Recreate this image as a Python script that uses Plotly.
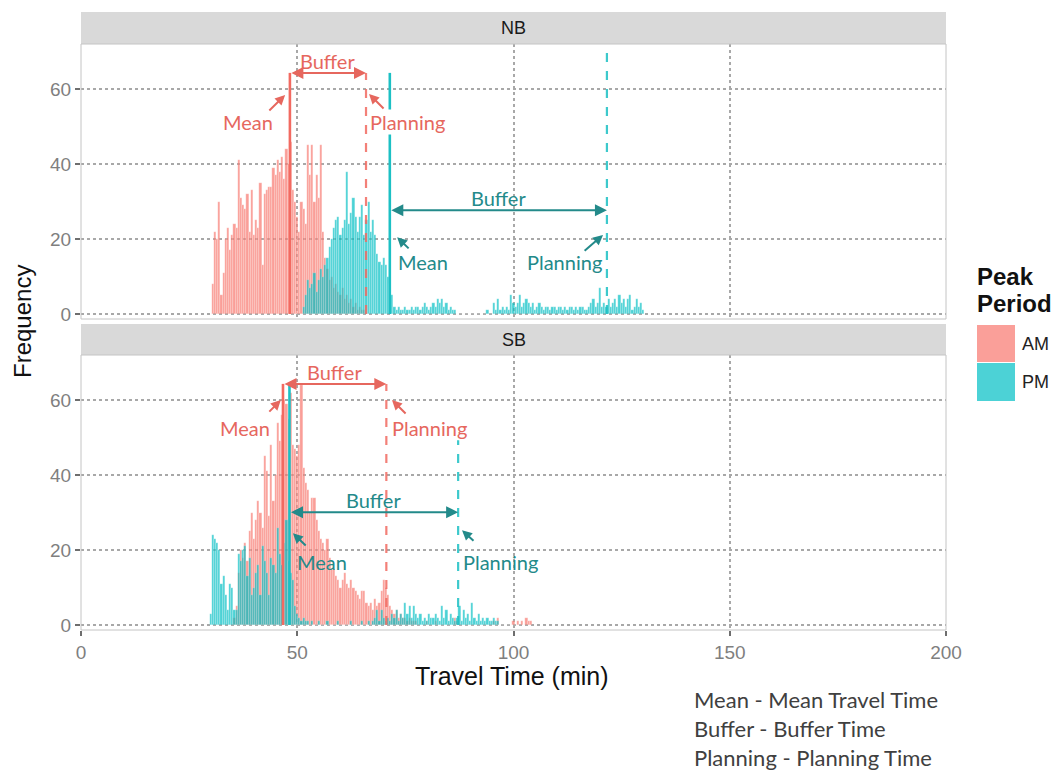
import plotly.graph_objects as go

# ---------------- data (bin width 0.5 min) ----------------
BIN = 0.5
nb_am_start = 30.5
nb_am_counts = [8, 22, 20, 30, 5, 11, 20, 23, 17, 21, 24, 23, 41, 31, 29, 28, 32, 22, 33, 21,
                25, 23, 35, 13, 32, 33, 34, 34, 39, 37, 41, 38, 42, 36, 44, 40, 46, 33, 30, 26,
                22, 30, 28, 24, 45, 37, 45, 30, 37, 31, 45, 22, 15, 12, 9, 10, 7, 8, 6, 5,
                7, 4, 5, 3, 4, 2, 3, 1, 2, 1, 1]
nb_pm_start = 51.5
nb_pm_counts = [2, 5, 9, 7, 8, 11, 6, 9, 12, 10, 13, 15, 18, 20, 23, 25, 26, 21, 23, 25,
                38, 24, 27, 31, 26, 22, 26, 29, 21, 25, 30, 22, 25, 21, 16, 14, 13, 15, 13, 10,
                8,
                5, 2, 1, 2, 1, 1, 2, 1, 1, 2, 1, 2, 2, 1, 2, 3, 2, 1, 2, 3, 2, 4, 3, 4, 2, 3, 1, 2, 1, 1,
                0, 0, 0, 0, 0, 0, 0, 0, 0, 0, 0, 0, 0, 0,
                1, 0, 0, 3, 1, 4, 1, 2, 1, 2, 1, 5, 3, 2, 3, 5, 2, 3, 4, 3, 2, 3, 1, 2, 3,
                2, 1, 2, 2, 1, 2, 2, 1, 2, 2, 1, 2, 1, 2, 2, 1, 2, 1, 2, 2, 1, 1, 2, 3, 4,
                2, 3, 7, 2, 3, 2, 4, 2, 3, 4, 2, 5, 3, 4, 2, 4, 5, 1, 2, 4, 2, 3, 1]
sb_am_start = 35.5
sb_am_counts = [2, 5, 14, 20, 18, 22, 17, 25, 30, 23, 28, 33, 30, 26, 45, 41, 29, 48, 33, 40,
                54, 49, 56, 60, 59, 55, 62, 48, 47, 45, 48, 64, 42, 38, 36, 30, 34, 34, 28, 25,
                23, 22, 20, 23, 18, 15, 15, 13, 12, 10, 12, 14, 11, 10, 12, 10, 9, 8, 7, 9,
                9, 6, 5, 6, 4, 7, 5, 6, 9, 12, 10, 8, 5, 4, 3, 4, 2, 3, 2, 2, 1, 2, 1, 1, 1,
                0, 0, 0, 0, 1, 0, 0, 0, 1, 0, 0, 0, 0, 0, 0, 0, 0, 2, 1, 0, 0, 0, 0, 0, 0,
                0, 0, 0, 0, 0, 0, 0, 0, 0, 0, 1, 0, 2, 0, 0, 0, 0, 0, 0, 1, 0, 1, 0, 1, 0,
                2, 1, 1]
sb_pm_start = 30.0
sb_pm_counts = [3, 24, 23, 22, 20, 11, 13, 8, 4, 11, 10, 4, 4, 19, 17, 20, 21, 13, 18, 8,
                10, 14, 16, 8, 21, 17, 14, 8, 18, 16, 14, 26, 19, 16, 22, 28, 17, 14, 12, 5,
                3, 2, 1, 2, 1, 1,
                0, 1, 0, 0, 1, 0, 0, 0, 1, 0, 0, 0, 0, 1, 0, 0, 0, 0, 0, 1, 0, 0, 0, 0, 1, 0, 0, 1, 0, 1,
                2, 4, 1, 4, 2, 1, 2, 1, 3, 2, 4, 1, 3, 2, 6, 3, 5, 2, 5, 3, 2, 3, 1, 2, 1,
                3, 2, 2, 3, 2, 1, 5, 2, 4, 1, 3, 2, 1, 2, 5, 1, 4, 2, 3, 1, 6, 2, 1, 3, 1,
                2, 1, 2, 1, 1, 2, 1, 1]

# mean and planning travel times (min)
nb_mean = {"AM": 48.3, "PM": 71.4}
nb_plan = {"AM": 65.9, "PM": 121.6}
sb_mean = {"AM": 46.7, "PM": 48.2}
sb_plan = {"AM": 70.6, "PM": 87.2}

x_ticks = [0, 50, 100, 150, 200]
y_ticks = [0, 20, 40, 60]
periods = ["AM", "PM"]
directions = ["NB", "SB"]
footer_lines = ["Mean - Mean Travel Time", "Buffer - Buffer Time", "Planning - Planning Time"]

# ---------------- styling ----------------
W, H = 1061, 770
FILL = {"AM": "#F8766D", "PM": "#00BFC4"}
LINE_C = {"AM": "#F26A61", "PM": "#1CC0C4"}
ANN_C = {"AM": "#E6675E", "PM": "#238A8A"}
GRID = "#A8A8A8"
TICKC = "#7F7F7F"

XL, XR = 81, 946
panels = {"NB": (44, 319), "SB": (355, 630)}
strips = {"NB": (12, 44), "SB": (324, 355)}


def py(p):
    return 1 - p / H


fig = go.Figure()

series = {
    ("NB", "AM"): (nb_am_start, nb_am_counts),
    ("NB", "PM"): (nb_pm_start, nb_pm_counts),
    ("SB", "AM"): (sb_am_start, sb_am_counts),
    ("SB", "PM"): (sb_pm_start, sb_pm_counts),
}
axmap = {"NB": ("x", "y"), "SB": ("x2", "y2")}

for d in directions:
    for p in periods:
        start, counts = series[(d, p)]
        xs = [start + i * BIN for i in range(len(counts))]
        xa, ya = axmap[d]
        fig.add_trace(go.Bar(x=xs, y=counts, width=BIN, marker_color=FILL[p],
                             marker_line=dict(width=0.4, color="rgba(255,255,255,0.55)"),
                             opacity=0.7, showlegend=False,
                             xaxis=xa, yaxis=ya, name=p))

axis_common = dict(range=[0, 200], tickvals=x_ticks, showgrid=True, gridcolor=GRID,
                   griddash="dot", gridwidth=1.6, zeroline=False, showline=False,
                   domain=[XL / W, XR / W], automargin=False)
yaxis_common = dict(range=[-1.33, 72], tickvals=y_ticks, showgrid=True, gridcolor=GRID,
                    griddash="dot", gridwidth=1.6, zeroline=False, showline=False,
                    ticks="outside", ticklen=5, tickwidth=1.5, tickcolor="#6E6E6E",
                    automargin=False,
                    tickfont=dict(family="Liberation Sans", size=19, color=TICKC))

fig.update_layout(
    autosize=True, margin=dict(l=0, r=0, t=0, b=0, pad=0),
    paper_bgcolor="white", plot_bgcolor="white", barmode="overlay", bargap=0,
    showlegend=False,
    xaxis=dict(**axis_common, anchor="y", showticklabels=False, ticks=""),
    yaxis=dict(**yaxis_common, anchor="x", domain=[py(panels["NB"][1]), py(panels["NB"][0])]),
    xaxis2=dict(**axis_common, anchor="y2", ticks="outside", ticklen=5, tickwidth=1.5,
                tickcolor="#6E6E6E",
                tickfont=dict(family="Liberation Sans", size=19, color=TICKC)),
    yaxis2=dict(**yaxis_common, anchor="x2", domain=[py(panels["SB"][1]), py(panels["SB"][0])]),
)

shapes = []
annotations = []

# strips + panel borders
for d in directions:
    s0, s1 = strips[d]
    shapes.append(dict(type="rect", xref="paper", yref="paper", x0=XL / W, x1=XR / W,
                       y0=py(s1), y1=py(s0), fillcolor="#D9D9D9", line_width=0, layer="below"))
    annotations.append(dict(xref="paper", yref="paper", x=(XL + XR) / 2 / W, y=py((s0 + s1) / 2),
                            text=d, showarrow=False, xanchor="center", yanchor="middle",
                            font=dict(family="Liberation Sans", size=18, color="#1A1A1A")))
    p0, p1 = panels[d]
    shapes.append(dict(type="rect", xref="paper", yref="paper", x0=XL / W, x1=XR / W,
                       y0=py(p1), y1=py(p0), line=dict(color="#C4C4C4", width=1),
                       fillcolor="rgba(0,0,0,0)", layer="above"))

# mean / planning lines and annotations
means = {"NB": nb_mean, "SB": sb_mean}
plans = {"NB": nb_plan, "SB": sb_plan}
buffer_y = {("NB", "AM"): 64.3, ("NB", "PM"): 27.7, ("SB", "AM"): 64.3, ("SB", "PM"): 30.1}
line_top = {("NB", "AM"): (64.3, 64.3), ("NB", "PM"): (64.3, 72.0),
            ("SB", "AM"): (64.3, 64.3), ("SB", "PM"): (64.3, 49.3)}
# label offsets: (which, text_dx, text_y, head_dx, head_y, tail_dx, tail_y)
label_spec = {
    ("NB", "AM"): [("mean", -9.7, 51.2, -1.1, 58.4, -5.1, 53.9),
                   ("plan", 9.5, 51.2, 0.7, 58.7, 4.4, 54.4)],
    ("NB", "PM"): [("mean", 7.7, 13.9, 1.7, 20.5, 4.7, 17.1),
                   ("plan", -9.7, 13.9, -0.9, 21.1, -5.5, 16.5)],
    ("SB", "AM"): [("mean", -8.8, 52.5, -0.5, 60.0, -3.5, 56.5),
                   ("plan", 9.9, 52.5, 1.3, 60.0, 4.8, 56.0)],
    ("SB", "PM"): [("mean", 7.5, 16.8, 0.8, 24.5, 4.1, 20.8),
                   ("plan", 9.7, 16.8, 0.9, 25.3, 3.9, 22.1)],
}
LBL_FONT = "Lato"

for d in directions:
    xa, ya = axmap[d]
    for p in periods:
        m = means[d][p]
        pl = plans[d][p]
        tm, tp = line_top[(d, p)]
        shapes.append(dict(type="line", xref=xa, yref=ya, x0=m, x1=m, y0=0, y1=tm,
                           line=dict(color=LINE_C[p], width=2.6), layer="above"))
        shapes.append(dict(type="line", xref=xa, yref=ya, x0=pl, x1=pl, y0=0, y1=tp,
                           line=dict(color=LINE_C[p], width=2.2, dash="dash"),
                           opacity=0.85, layer="above"))
        by = buffer_y[(d, p)]
        # double-headed buffer arrow
        annotations.append(dict(xref=xa, yref=ya, axref=xa, ayref=ya, x=pl, y=by, ax=m, ay=by,
                                text="", showarrow=True, arrowhead=2, startarrowhead=2,
                                arrowside="end+start", arrowsize=1.2, startarrowsize=1.2,
                                arrowwidth=2, arrowcolor=ANN_C[p], standoff=0, startstandoff=0))
        annotations.append(dict(xref=xa, yref=ya, x=(m + pl) / 2, y=by + 3.2, text="Buffer",
                                showarrow=False, xanchor="center", yanchor="middle",
                                font=dict(family=LBL_FONT, size=20, color=ANN_C[p])))
        for (which, tdx, ty, hdx, hy, tldx, tly) in label_spec[(d, p)]:
            base = m if which == "mean" else pl
            txt = "Mean" if which == "mean" else "Planning"
            bg = "white" if (d == "NB" and p == "AM" and which == "plan") else "rgba(0,0,0,0)"
            annotations.append(dict(xref=xa, yref=ya, x=base + tdx, y=ty, text=txt,
                                    showarrow=False, xanchor="center", yanchor="middle",
                                    bgcolor=bg, borderpad=0,
                                    font=dict(family=LBL_FONT, size=20, color=ANN_C[p])))
            annotations.append(dict(xref=xa, yref=ya, axref=xa, ayref=ya,
                                    x=base + hdx, y=hy, ax=base + tldx, ay=tly,
                                    text="", showarrow=True, arrowhead=2, arrowsize=1.0,
                                    arrowwidth=2, arrowcolor=ANN_C[p], standoff=0))

# axis titles
annotations.append(dict(xref="paper", yref="paper", x=22 / W, y=py(322), text="Frequency",
                        textangle=-90, showarrow=False, xanchor="center", yanchor="middle",
                        font=dict(family="Liberation Sans", size=24, color="#111111")))
annotations.append(dict(xref="paper", yref="paper", x=512 / W, y=py(676),
                        text="Travel Time (min)", showarrow=False, xanchor="center",
                        yanchor="middle",
                        font=dict(family="Liberation Sans", size=25, color="#111111")))

# custom legend
annotations.append(dict(xref="paper", yref="paper", x=975 / W, y=py(277), text="<b>Peak</b>",
                        showarrow=False, xanchor="left", yanchor="middle",
                        font=dict(family="Liberation Sans", size=24, color="#111111")))
annotations.append(dict(xref="paper", yref="paper", x=975 / W, y=py(303), text="<b>Period</b>",
                        showarrow=False, xanchor="left", yanchor="middle",
                        font=dict(family="Liberation Sans", size=24, color="#111111")))
legend_rows = {"AM": (325, 362), "PM": (363, 401)}
for p in periods:
    r0, r1 = legend_rows[p]
    shapes.append(dict(type="rect", xref="paper", yref="paper", x0=977 / W, x1=1015 / W,
                       y0=py(r1), y1=py(r0), fillcolor=FILL[p], opacity=0.7, line_width=0))
    annotations.append(dict(xref="paper", yref="paper", x=1020 / W, y=py((r0 + r1) / 2),
                            text=p, showarrow=False, xanchor="left", yanchor="middle",
                            font=dict(family="Liberation Sans", size=18, color="#222222")))

# footer notes
for i, line in enumerate(footer_lines):
    annotations.append(dict(xref="paper", yref="paper", x=692 / W, y=py(699 + 29 * i),
                            text=line, showarrow=False, xanchor="left", yanchor="middle",
                            font=dict(family=LBL_FONT, size=22, color="#404040")))

fig.update_layout(shapes=shapes, annotations=annotations)

post = (
    "document.documentElement.style.margin='0';"
    "document.documentElement.style.overflow='hidden';"
    "document.body.style.margin='0';"
    "document.body.style.overflow='hidden';"
    "var gd=document.getElementById('{plot_id}');"
    "gd.style.width='100vw';gd.style.height='100vh';"
    "Plotly.Plots.resize(gd);"
)
fig.write_html("out.html", config={"displayModeBar": False, "responsive": True},
               default_width="100vw", default_height="100vh", post_script=post)
